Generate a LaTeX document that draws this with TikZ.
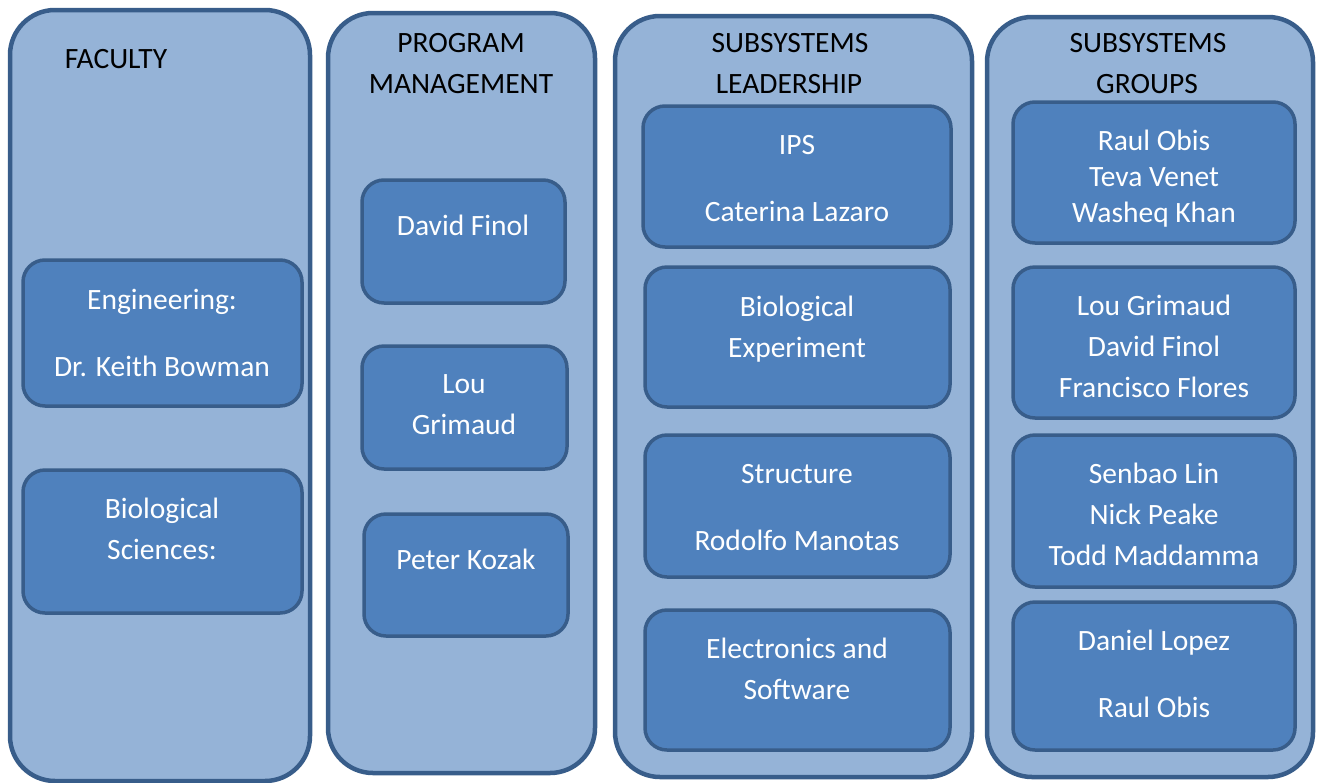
\documentclass[tikz,border=0pt]{standalone}
\usepackage{fontspec}
\setmainfont{Carlito}
\definecolor{panelfill}{HTML}{95B3D7}
\definecolor{edgeblue}{HTML}{385D8A}
\definecolor{cardfill}{HTML}{4F81BD}
\begin{document}
\begin{tikzpicture}[x=1pt,y=-1pt,
  panel/.style={draw=edgeblue, fill=panelfill, line width=4.5pt, rounded corners=45pt, inner sep=0pt},
  card/.style={draw=edgeblue, fill=cardfill, line width=3.5pt, rounded corners=22pt, inner sep=0pt},
  hdtext/.style={font=\fontsize{29.5}{35}\selectfont, text=black, anchor=base, inner sep=0pt},
  cardtext/.style={hdtext, text=white}]
\useasboundingbox (0,0) rectangle (1319,782);

% column panels
\node[panel, minimum width=300pt, minimum height=771pt] (faculty) at (160,395.5) {};
\node[panel, minimum width=267pt, minimum height=760pt] (progmgmt) at (461.5,393) {};
\node[panel, minimum width=357pt, minimum height=761pt] (sublead) at (793.5,396.5) {};
\node[panel, minimum width=326pt, minimum height=760pt] (subgroups) at (1150,397) {};

% column headings
\node[hdtext] (facT) at (116,68.5) {FACULTY};
\node[hdtext] (pmT1) at (461,52.5) {PROGRAM};
\node[hdtext] (pmT2) at (461,93.5) {MANAGEMENT};
\node[hdtext] (slT1) at (790,52.5) {SUBSYSTEMS};
\node[hdtext] (slT2) at (789,93.5) {LEADERSHIP};
\node[hdtext] (sgT1) at (1148,52.5) {SUBSYSTEMS};
\node[hdtext] (sgT2) at (1147,93.5) {GROUPS};

% faculty cards
\node[card, minimum width=279pt, minimum height=146pt] (eng) at (162.5,333) {};
\node[card, minimum width=279pt, minimum height=143pt] (bio) at (162.5,541.5) {};
\node[cardtext] (engA) at (162,309.5) {Engineering:};
\node[cardtext] (engB) at (162,376.5) {Dr. Keith Bowman};
\node[cardtext] (bioA) at (162,518.5) {Biological};
\node[cardtext] (bioB) at (162,559.5) {Sciences:};

% program management cards
\node[card, minimum width=203pt, minimum height=123pt] (finol) at (463.5,241.5) {};
\node[card, minimum width=205pt, minimum height=123pt] (grimaud) at (464.5,407.5) {};
\node[card, minimum width=204pt, minimum height=122pt] (kozak) at (466,575) {};
\node[cardtext] (finolA) at (463,235.5) {David Finol};
\node[cardtext] (grimA) at (464,393.5) {Lou};
\node[cardtext] (grimB) at (464,434.5) {Grimaud};
\node[cardtext] (kozA) at (466,569.5) {Peter Kozak};

% subsystem leadership cards
\node[card, minimum width=308pt, minimum height=141pt] (ips) at (797,176.5) {};
\node[card, minimum width=305pt, minimum height=140pt] (bioexp) at (797.5,337) {};
\node[card, minimum width=305pt, minimum height=142pt] (struct) at (797.5,506) {};
\node[card, minimum width=305pt, minimum height=140pt] (elec) at (797.5,680) {};
\node[cardtext] (ipsA) at (797,154.5) {IPS};
\node[cardtext] (ipsB) at (797,221.5) {Caterina Lazaro};
\node[cardtext] (beA) at (797,316.5) {Biological};
\node[cardtext] (beB) at (797,357.5) {Experiment};
\node[cardtext] (stA) at (797,483.5) {Structure};
\node[cardtext] (stB) at (797,550.5) {Rodolfo Manotas};
\node[cardtext] (elA) at (797,658.5) {Electronics and};
\node[cardtext] (elB) at (797,699.5) {Software};

% subsystem group cards
\node[card, minimum width=282pt, minimum height=141pt] (grp1) at (1154,172.5) {};
\node[card, minimum width=282pt, minimum height=151pt] (grp2) at (1154,342.5) {};
\node[card, minimum width=282pt, minimum height=152pt] (grp3) at (1154,511) {};
\node[card, minimum width=282pt, minimum height=148pt] (grp4) at (1154,676) {};
\node[cardtext] (g1A) at (1154,150.5) {Raul Obis};
\node[cardtext] (g1B) at (1154,186.5) {Teva Venet};
\node[cardtext] (g1C) at (1154,222.5) {Washeq Khan};
\node[cardtext] (g2A) at (1154,315.5) {Lou Grimaud};
\node[cardtext] (g2B) at (1154,356.5) {David Finol};
\node[cardtext] (g2C) at (1154,397.5) {Francisco Flores};
\node[cardtext] (g3A) at (1154,483.5) {Senbao Lin};
\node[cardtext] (g3B) at (1154,524.5) {Nick Peake};
\node[cardtext] (g3C) at (1154,565.5) {Todd Maddamma};
\node[cardtext] (g4A) at (1154,650.5) {Daniel Lopez};
\node[cardtext] (g4B) at (1154,717.5) {Raul Obis};
\end{tikzpicture}
\end{document}
